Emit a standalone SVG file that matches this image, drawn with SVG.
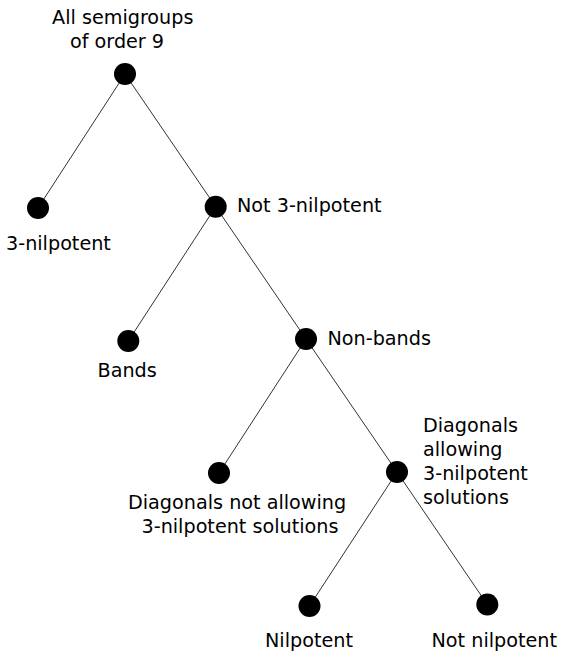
<svg xmlns="http://www.w3.org/2000/svg" width="562" height="654" viewBox="0 0 562 654">
<style>
.n { fill: #000; }
.e { stroke: #333; stroke-width: 1; fill: none; }
text { font-family: "DejaVu Sans", sans-serif; font-size: 19.2px; fill: #000; }
</style>
<rect width="562" height="654" fill="#fff"/>
<g id="edges">
<line class="e" x1="125" y1="74" x2="38" y2="208"/>
<line class="e" x1="125" y1="74" x2="215.7" y2="206.7"/>
<line class="e" x1="215.7" y1="206.7" x2="128.3" y2="341"/>
<line class="e" x1="215.7" y1="206.7" x2="306" y2="339"/>
<line class="e" x1="306" y1="339" x2="219" y2="473"/>
<line class="e" x1="306" y1="339" x2="397" y2="472"/>
<line class="e" x1="397" y1="472" x2="309.5" y2="606"/>
<line class="e" x1="397" y1="472" x2="487.3" y2="604.5"/>
</g>
<g id="root">
<circle class="n" cx="125" cy="74" r="11"/>
<text x="52" y="24">All semigroups</text>
<text x="70" y="48">of order 9</text>
</g>
<g id="nil3">
<circle class="n" cx="38" cy="208" r="11"/>
<text x="6" y="250">3-nilpotent</text>
</g>
<g id="not3">
<circle class="n" cx="215.7" cy="206.7" r="11"/>
<text x="237" y="212">Not 3-nilpotent</text>
</g>
<g id="bands">
<circle class="n" cx="128.3" cy="341" r="11"/>
<text x="97.5" y="376.5">Bands</text>
</g>
<g id="nonbands">
<circle class="n" cx="306" cy="339" r="11"/>
<text x="327.5" y="345">Non-bands</text>
</g>
<g id="diagnot">
<circle class="n" cx="219" cy="473" r="11"/>
<text x="128" y="509">Diagonals not allowing</text>
<text x="141.5" y="533">3-nilpotent solutions</text>
</g>
<g id="diagallow">
<circle class="n" cx="397" cy="472" r="11"/>
<text x="423" y="432">Diagonals</text>
<text x="423" y="456">allowing</text>
<text x="423" y="480">3-nilpotent</text>
<text x="423" y="504">solutions</text>
</g>
<g id="nilpotent">
<circle class="n" cx="309.5" cy="606" r="11"/>
<text x="265" y="647">Nilpotent</text>
</g>
<g id="notnilpotent">
<circle class="n" cx="487.3" cy="604.5" r="11"/>
<text x="431.5" y="647">Not nilpotent</text>
</g>
</svg>
